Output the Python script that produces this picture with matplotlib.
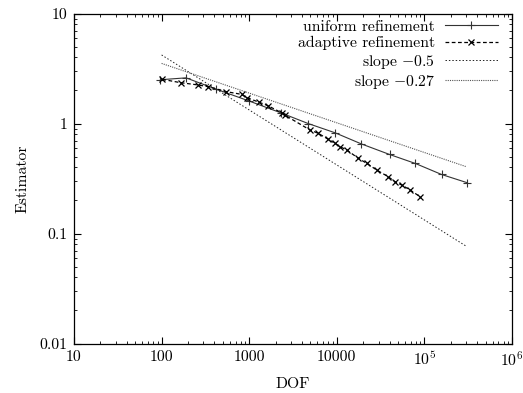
import numpy as np
import matplotlib
matplotlib.use("Agg")
from matplotlib import pyplot as plt
from matplotlib.ticker import FixedLocator, LogLocator, NullFormatter

plt.rcParams['font.family'] = 'cmr10'
plt.rcParams['mathtext.fontset'] = 'cm'
plt.rcParams['axes.formatter.use_mathtext'] = True

# uniform refinement
uniform_dof = [97, 190, 420, 1000, 2300, 4700, 9600, 19000, 40000, 79000, 157000, 310000]
uniform_est = [2.5, 2.6, 2.05, 1.6, 1.25, 1.0, 0.822, 0.653, 0.523, 0.433, 0.344, 0.289]

# adaptive refinement
adaptive_dof = [102, 165, 262, 341, 543, 820, 935, 1300, 1640, 2350, 2560, 4940,
                6150, 8000, 9530, 10900, 13000, 17600, 21900, 28500, 38700,
                46100, 55000, 68500, 89200]
adaptive_est = [2.52, 2.35, 2.24, 2.16, 1.95, 1.84, 1.72, 1.56, 1.45, 1.25, 1.19, 0.873,
                0.814, 0.718, 0.66, 0.616, 0.574, 0.483, 0.435, 0.378, 0.328,
                0.296, 0.276, 0.249, 0.216]

# reference slopes
slope_dof = [100, 3.0e5]
slope_a, slope_a_coef = -0.5, 42.0
slope_b, slope_b_coef = -0.27, 12.2

x_ticks = [10, 100, 1000, 10000, 1e5, 1e6]
x_labels = ["10", "100", "1000", "10000", "$10^5$", "$10^6$"]
y_ticks = [0.01, 0.1, 1, 10]
y_labels = ["0.01", "0.1", "1", "10"]

fs = 11.3

fig = plt.figure(figsize=(5.23, 3.93), dpi=100)
ax = fig.add_axes([74/523, 1 - 343.5/393, (512 - 74)/523, 330/393])

ax.plot(uniform_dof, uniform_est, color="#333333", lw=0.8, marker="+", ms=6,
        mew=0.8, label="uniform refinement")
ax.plot(adaptive_dof, adaptive_est, color="black", lw=0.9, ls=(0, (3, 2)),
        marker="x", ms=4, mew=0.9, label="adaptive refinement")
sx = np.array(slope_dof)
ax.plot(sx, slope_a_coef * sx**slope_a, color="#222222", lw=0.7, ls=(0, (1.5, 2)),
        label=r"slope $-0.5$")
ax.plot(sx, slope_b_coef * sx**slope_b, color="#555555", lw=0.8, ls=(0, (1, 1)),
        label=r"slope $-0.27$")

ax.set_xscale("log")
ax.set_yscale("log")
ax.set_xlim(10, 1e6)
ax.set_ylim(0.01, 10)
ax.xaxis.set_major_locator(FixedLocator(x_ticks))
ax.set_xticklabels(x_labels)
ax.yaxis.set_major_locator(FixedLocator(y_ticks))
ax.set_yticklabels(y_labels)
ax.xaxis.set_minor_locator(LogLocator(base=10, subs=np.arange(2, 10), numticks=20))
ax.yaxis.set_minor_locator(LogLocator(base=10, subs=np.arange(2, 10), numticks=20))
ax.xaxis.set_minor_formatter(NullFormatter())
ax.yaxis.set_minor_formatter(NullFormatter())
ax.tick_params(which="both", direction="in", top=True, right=True, labelsize=fs)
ax.tick_params(which="major", length=5, width=0.8, pad=5)
ax.tick_params(which="minor", length=2.5, width=0.6)
for s in ax.spines.values():
    s.set_linewidth(0.9)

ax.set_xlabel("DOF", fontsize=fs, labelpad=6)
ax.set_ylabel("Estimator", fontsize=fs, labelpad=7)

ax.legend(loc="upper right", bbox_to_anchor=(1, 1.024), frameon=False,
          markerfirst=False, fontsize=fs, handlelength=3.4, labelspacing=0.15,
          handletextpad=0.6, borderaxespad=0.5)

fig.savefig("out.png", dpi=100)
